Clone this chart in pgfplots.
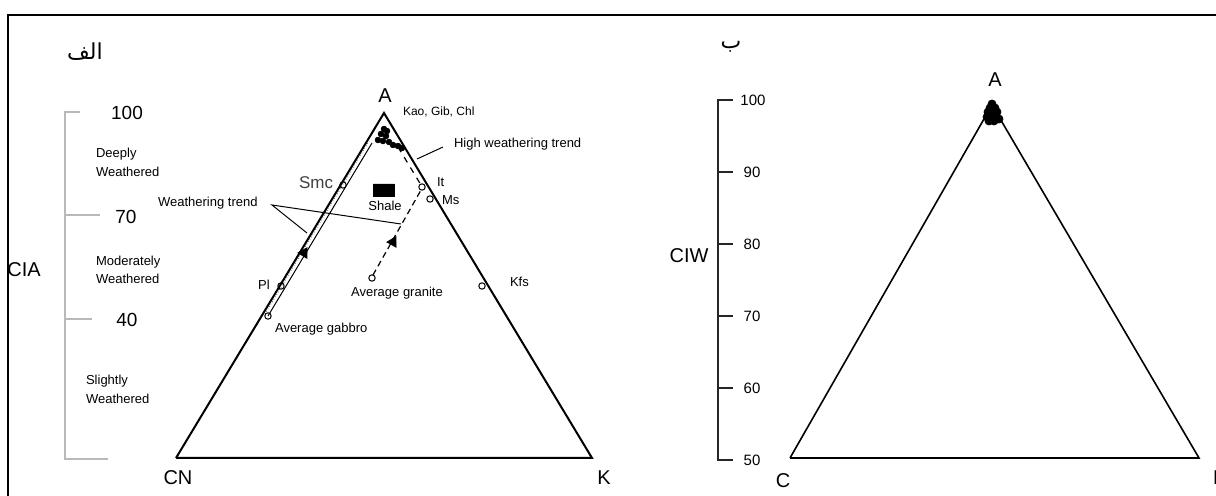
\documentclass[border=0pt]{standalone}
\usepackage{pgfplots}
\pgfplotsset{compat=1.18}
\usepackage{fontspec}
\setmainfont{Liberation Sans}
\newfontfamily\arabicfont[Script=Arabic]{DejaVu Sans}
\TeXXeTstate=1
\newcommand\fs[1]{\fontsize{#1}{#1}\selectfont}
\begin{document}
\begin{tikzpicture}
\begin{axis}[scale only axis, width=608pt, height=248pt,
  xmin=0, xmax=1216, ymin=0, ymax=496, y dir=reverse,
  hide axis, clip=false]
% frame
\addplot[black, line width=1.4pt] coordinates {(8,496) (8,15) (1216,15)};
% ---------- left panel ----------
% CIA scale
\addplot[gray!55, line width=1.2pt] coordinates {(80,112) (65,112) (65,459) (108,459)};
\addplot[gray!55, line width=1.2pt] coordinates {(65,215) (100,215)};
\addplot[gray!55, line width=1.2pt] coordinates {(65,319) (92,319)};
% triangle
\addplot[black, line width=1pt] coordinates {(176,458) (384,113) (592,458) (176,458)};
% gabbro weathering trend (double line)
\addplot[black, line width=0.5pt] coordinates {(268,316) (372,143)};
\addplot[black!60, line width=0.4pt, densely dotted] coordinates {(265,314) (369,141)};
\addplot[only marks, mark=triangle*, mark size=3pt, mark options={rotate=-31, fill=black}] coordinates {(304,253)};
% granite trend
\addplot[black, line width=0.6pt, densely dashed] coordinates {(373,275) (421,190)};
\addplot[only marks, mark=triangle*, mark size=3pt, mark options={rotate=-29, fill=black}] coordinates {(393,242)};
% high weathering trend
\addplot[black, line width=0.6pt, dashed] coordinates {(398,147) (421,185)};
\addplot[black, line width=0.5pt] coordinates {(417,159) (443,147)};
% weathering trend leaders
\addplot[black, line width=0.5pt] coordinates {(307,233) (272,205) (401,224)};
% shale box
\addplot[fill=black, draw=black] coordinates {(373,184) (394,184) (394,196) (373,196) (373,184)};
% open circles (minerals, rocks)
\addplot[only marks, mark=o, mark size=1.6pt, mark options={fill=white, line width=0.5pt}] coordinates {
(343,185) (422,187) (430,199) (281,286) (482,286) (372,278) (268,316)};
% samples near A
\addplot[only marks, mark=*, mark size=1.4pt, black] coordinates {
(384,129) (381,134) (386,136) (378,140) (383,141) (389,142) (393,145) (398,146) (402,148) (387,131)};
% ---------- right panel ----------
\addplot[black!85, line width=1pt] coordinates {(733,100) (718,100) (718,460) (733,460)};
\addplot[black!85, line width=1pt] coordinates {(718,172) (733,172)};
\addplot[black!85, line width=1pt] coordinates {(718,244) (733,244)};
\addplot[black!85, line width=1pt] coordinates {(718,316) (733,316)};
\addplot[black!85, line width=1pt] coordinates {(718,388) (733,388)};
\addplot[black, line width=0.8pt] coordinates {(790,458) (992,105) (1199,458) (790,458)};
\addplot[only marks, mark=*, mark size=2pt, black] coordinates {
(992,104) (990,108) (995,108) (988,112) (993,113) (997,112) (987,117) (991,118) (996,117) (989,121) (994,121) (999,119)};
% ---------- text ----------
\node at (axis cs:85,52) {\arabicfont\fs{11}\beginR الف\endR};
\node at (axis cs:731,47) {\arabicfont\fs{11}\beginR ب\endR};
\node at (axis cs:127,113) {\fs{9.5}100};
\node at (axis cs:126,217) {\fs{9.5}70};
\node at (axis cs:127,320) {\fs{9.5}40};
\node[anchor=west] at (axis cs:89,154) {\fs{6.5}Deeply};
\node[anchor=west] at (axis cs:89,172) {\fs{6.5}Weathered};
\node[anchor=west] at (axis cs:89,262) {\fs{6.5}Moderately};
\node[anchor=west] at (axis cs:89,279) {\fs{6.5}Weathered};
\node[anchor=west] at (axis cs:79,381) {\fs{6.5}Slightly};
\node[anchor=west] at (axis cs:79,399) {\fs{6.5}Weathered};
\node at (axis cs:24,270) {\fs{10}CIA};
\node[anchor=west] at (axis cs:151,203) {\fs{6.5}Weathering trend};
\node[text=black!75] at (axis cs:316,183) {\fs{8.5}Smc};
\node at (axis cs:385,96) {\fs{10}A};
\node[anchor=west] at (axis cs:396,112) {\fs{6}Kao, Gib, Chl};
\node[anchor=west] at (axis cs:447,144) {\fs{6.5}High weathering trend};
\node[anchor=west] at (axis cs:430,182) {\fs{6.5}It};
\node[anchor=west] at (axis cs:435,200) {\fs{6.5}Ms};
\node at (axis cs:385,206) {\fs{6.5}Shale};
\node at (axis cs:264,285) {\fs{6.5}Pl};
\node at (axis cs:397,293) {\fs{6.5}Average granite};
\node[anchor=west] at (axis cs:503,282) {\fs{6.5}Kfs};
\node[anchor=west] at (axis cs:268,329) {\fs{6.5}Average gabbro};
\node at (axis cs:178,478) {\fs{10}CN};
\node at (axis cs:604,478) {\fs{10}K};
\node at (axis cs:753,100) {\fs{7.5}100};
\node at (axis cs:752,172) {\fs{7.5}90};
\node at (axis cs:752,244) {\fs{7.5}80};
\node at (axis cs:752,316) {\fs{7.5}70};
\node at (axis cs:752,388) {\fs{7.5}60};
\node at (axis cs:752,460) {\fs{7.5}50};
\node at (axis cs:689,256) {\fs{10}CIW};
\node at (axis cs:995,80) {\fs{10}A};
\node at (axis cs:783,481) {\fs{10}C};
\node[anchor=west] at (axis cs:1206,478) {\fs{10}N};
\end{axis}
\pgfresetboundingbox
\path[use as bounding box] (current axis.south west) rectangle (current axis.north east);
\end{tikzpicture}
\end{document}
